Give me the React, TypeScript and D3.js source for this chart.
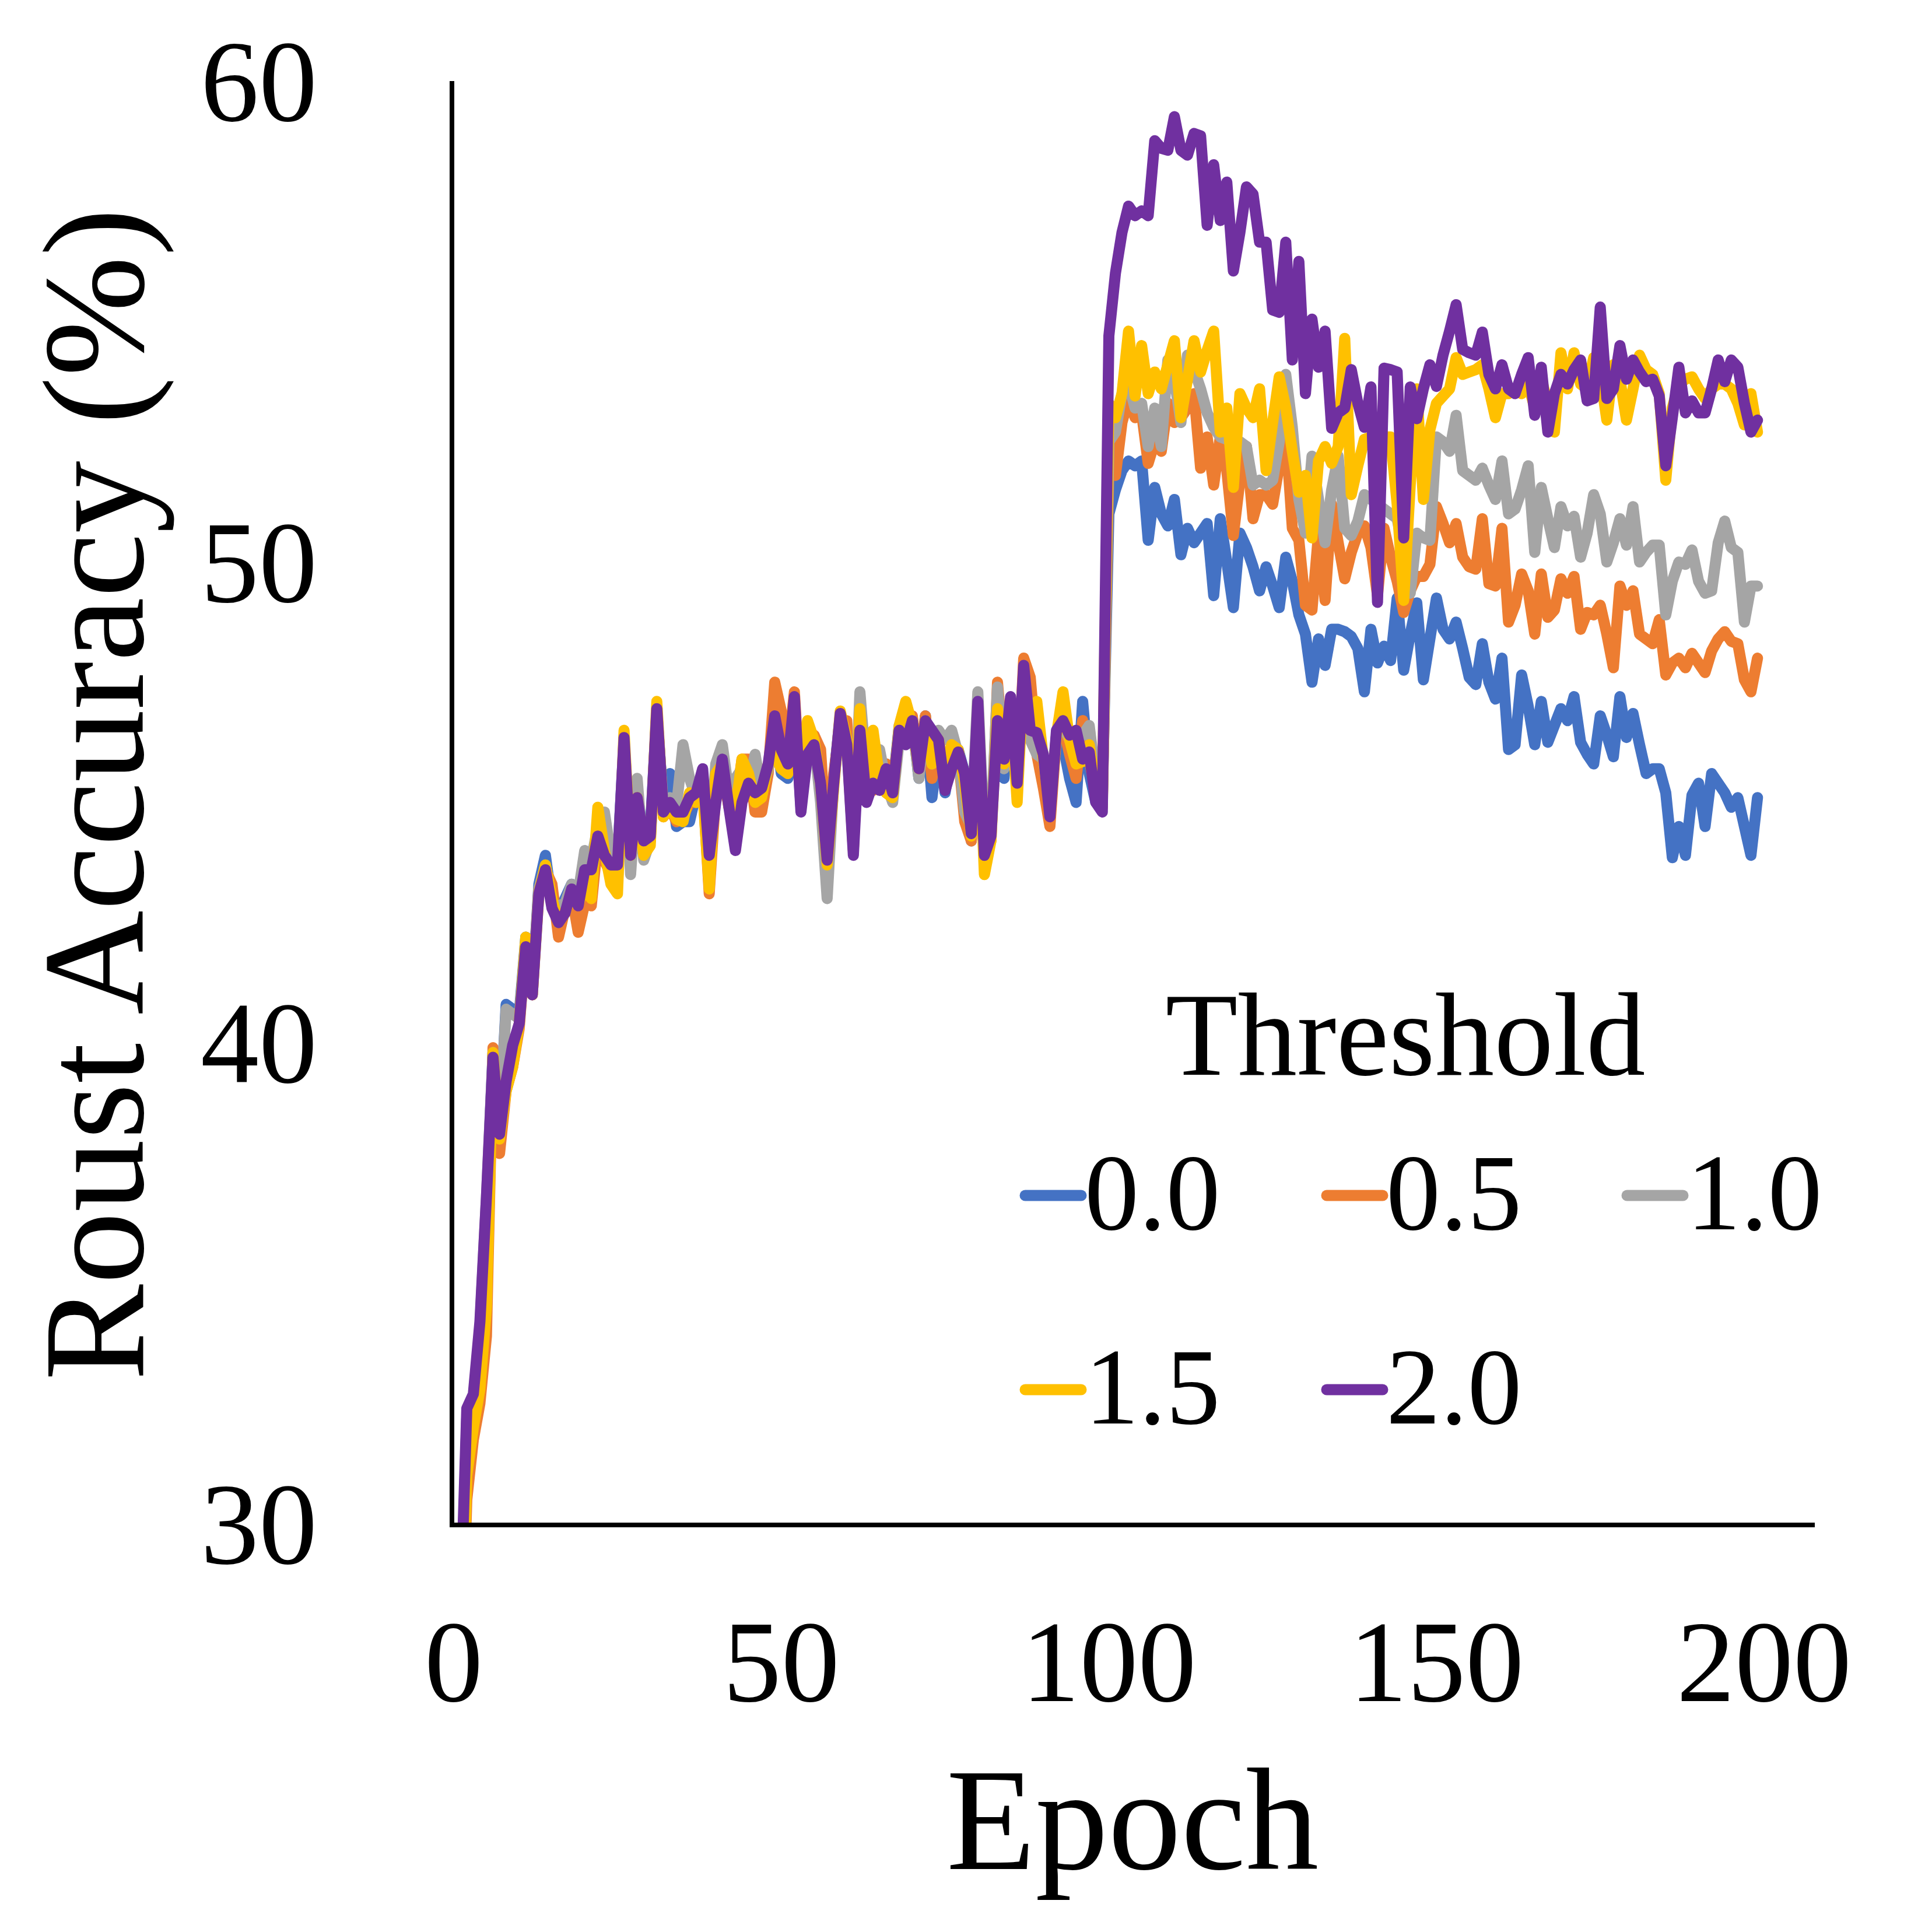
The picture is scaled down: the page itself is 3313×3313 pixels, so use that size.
import React from 'react';
import * as d3 from 'd3';

// ---------- data ----------
const epochs: number[] = Array.from({ length: 200 }, (_, i) => i);

const acc00: number[] = [
  24.5, 27.5, 32.2, 32.6, 34.0, 36.6, 39.8, 38.2, 40.8, 40.7,
  40.6, 42.2, 41.1, 43.3, 43.9, 42.9, 42.7, 43.0, 43.3, 43.0,
  43.6, 43.7, 44.4, 44.0, 43.8, 43.8, 46.3, 44.0, 45.2, 44.2,
  44.4, 46.9, 44.9, 45.6, 44.5, 44.6, 44.6, 45.2, 45.5, 44.0,
  45.2, 45.8, 45.0, 44.2, 45.3, 45.6, 45.4, 45.2, 45.7, 46.7,
  45.6, 45.5, 47.0, 44.9, 46.1, 46.3, 45.6, 43.8, 45.5, 46.8,
  46.3, 44.2, 46.6, 45.1, 45.5, 45.6, 45.8, 45.3, 46.6, 46.3,
  46.7, 45.5, 46.8, 45.1, 46.2, 45.2, 46.0, 46.1, 45.6, 44.2,
  47.0, 44.0, 44.6, 46.5, 45.5, 47.1, 45.2, 47.8, 46.3, 46.2,
  45.9, 44.9, 46.3, 46.2, 45.5, 45.0, 47.1, 45.6, 45.0, 45.1,
  51.0, 51.5, 51.9, 52.1, 52.0, 52.1, 50.45, 51.55, 51.0, 50.75,
  51.3, 50.15, 50.7, 50.4, 50.6, 50.8, 49.3, 50.9, 50.0, 49.05,
  50.6, 50.3, 49.9, 49.4, 49.9, 49.5, 49.05, 50.1, 49.6, 48.9,
  48.5, 47.5, 48.4, 47.85, 48.6, 48.6, 48.55, 48.45, 48.2, 47.3,
  48.6, 47.9, 48.25, 47.95, 49.25, 47.75, 48.5, 49.15, 47.55, 48.4,
  49.25, 48.6, 48.4, 48.75, 48.2, 47.6, 47.45, 48.3, 47.5, 47.15,
  48.0, 46.1, 46.2, 47.65, 47.0, 46.2, 47.1, 46.25, 46.6, 46.95,
  46.7, 47.2, 46.25, 46.0, 45.8, 46.8, 46.4, 45.95, 47.2, 46.35,
  46.85, 46.2, 45.6, 45.7, 45.7, 45.2, 43.85, 44.5, 43.9, 45.15,
  45.4, 44.5, 45.6, 45.4, 45.2, 44.9, 45.1, 44.5, 43.9, 45.1,
];

const acc05: number[] = [
  23.5, 26.0, 30.5, 31.75, 32.5, 33.9, 39.9, 37.7, 39.0, 39.5,
  40.3, 42.1, 41.0, 43.2, 43.6, 43.3, 42.2, 42.8, 43.1, 42.3,
  42.9, 42.85, 44.2, 43.8, 43.5, 43.3, 46.3, 43.8, 45.0, 44.0,
  44.2, 46.9, 44.7, 44.9, 44.6, 44.7, 45.0, 45.0, 45.4, 43.1,
  45.2, 45.7, 44.9, 44.9, 45.9, 45.9, 44.8, 44.8, 45.6, 47.5,
  46.9, 46.0, 47.3, 45.0, 46.3, 46.4, 46.1, 43.9, 45.6, 46.6,
  46.7, 44.1, 46.6, 45.2, 45.25, 45.3, 45.8, 45.3, 46.5, 46.5,
  46.8, 45.7, 46.8, 45.5, 46.3, 45.4, 46.1, 46.0, 44.6, 44.2,
  46.9, 44.0, 44.2, 47.5, 45.9, 47.0, 45.2, 48.0, 47.6, 46.0,
  45.3, 44.5, 46.4, 46.6, 46.0, 45.5, 46.7, 45.9, 45.2, 44.9,
  52.0, 51.8, 52.9, 53.4, 53.0, 53.1, 52.05, 52.5, 52.3, 53.3,
  52.9, 53.0, 53.2, 53.5, 51.95, 52.6, 51.6, 52.6, 51.9, 50.55,
  51.7, 52.4, 50.9, 51.4, 51.4, 51.2, 52.0, 52.7, 50.7, 50.45,
  49.1, 49.0, 50.6, 49.2, 51.2, 50.4, 49.65, 50.2, 50.6, 50.75,
  50.3, 49.3, 50.7, 50.1, 49.6, 48.95, 49.4, 49.7, 49.7, 49.95,
  51.15, 50.8, 50.4, 50.8, 50.1, 49.9, 49.85, 50.9, 49.55, 49.5,
  50.7, 48.75, 49.1, 49.75, 49.4, 48.5, 49.75, 48.85, 49.0, 49.65,
  49.35, 49.7, 48.6, 48.95, 48.9, 49.1, 48.5, 47.8, 49.5, 49.1,
  49.4, 48.5, 48.4, 48.3, 48.8, 47.65, 47.9, 48.0, 47.8, 48.1,
  47.9, 47.7, 48.15, 48.4, 48.55, 48.35, 48.3, 47.55, 47.3, 48.0,
];

const acc10: number[] = [
  24.5, 27.5, 32.2, 32.6, 34.1, 36.8, 39.8, 38.3, 40.7, 40.6,
  40.5, 42.1, 41.1, 43.2, 43.7, 42.9, 42.85, 42.9, 43.3, 43.1,
  44.0, 43.8, 44.5, 44.8, 43.9, 43.8, 46.2, 43.5, 45.5, 43.8,
  44.2, 46.9, 44.9, 45.1, 44.9, 46.2, 45.5, 45.1, 45.4, 43.9,
  45.8, 46.2, 45.2, 45.5, 45.7, 45.3, 46.0, 45.2, 45.7, 46.6,
  45.8, 45.8, 47.0, 45.0, 46.2, 46.3, 45.0, 43.0, 45.4, 46.7,
  46.2, 44.0, 47.3, 45.6, 46.0, 46.1, 45.4, 45.0, 46.3, 46.3,
  46.7, 45.5, 46.7, 45.8, 46.5, 46.3, 46.5, 46.0, 44.8, 44.5,
  47.3, 44.2, 44.5, 47.4, 45.7, 46.9, 45.5, 47.7, 46.3, 46.0,
  45.9, 45.0, 46.4, 46.6, 46.3, 46.3, 46.4, 46.6, 45.5, 45.0,
  52.5, 52.7, 53.5, 53.7, 53.2, 53.3, 52.4, 53.2, 52.4, 54.2,
  53.8, 52.9, 54.3, 54.0, 53.6, 53.1, 52.8, 52.6, 52.55, 52.5,
  52.5, 52.4, 51.6, 51.7, 51.6, 51.7, 52.5, 53.9, 52.8, 51.3,
  50.6, 52.2, 51.3, 50.4, 51.5, 52.2, 50.7, 50.55, 50.85, 51.4,
  51.3, 51.2, 51.1, 51.0, 50.9, 50.2, 49.35, 50.6, 50.5, 50.45,
  52.6, 52.5, 52.3, 53.05, 51.9, 51.8, 51.7, 51.95, 51.6, 51.3,
  52.1, 51.0, 51.1, 51.5, 52.0, 50.2, 51.55, 50.9, 50.3, 51.15,
  50.75, 50.95, 50.1, 50.6, 51.4, 51.0, 50.0, 50.4, 50.9, 50.35,
  51.15, 50.0, 50.2, 50.35, 50.35, 48.9, 49.6, 50.0, 49.95, 50.25,
  49.6, 49.35, 49.4, 50.4, 50.85, 50.3, 50.2, 48.75, 49.5, 49.5,
];

const acc15: number[] = [
  23.8, 26.5, 31.0, 32.0, 32.8, 34.5, 39.8, 38.0, 39.0, 39.5,
  40.4, 42.2, 41.0, 43.1, 43.7, 43.0, 42.5, 42.7, 43.1, 42.9,
  43.2, 43.0, 44.9, 44.0, 43.3, 43.1, 46.5, 43.9, 45.1, 43.9,
  44.1, 47.1, 44.7, 44.9, 44.65, 44.6, 45.2, 45.0, 45.3, 43.2,
  45.6, 45.8, 45.0, 44.8, 45.9, 45.6, 45.0, 45.1, 45.8, 46.0,
  45.7, 45.6, 46.8, 45.1, 46.7, 46.3, 45.4, 43.7, 45.3, 46.9,
  46.3, 44.0, 46.95, 45.2, 46.5, 45.5, 45.2, 45.1, 46.6, 47.1,
  46.6, 45.7, 46.7, 45.8, 46.3, 45.6, 46.2, 46.1, 45.4, 44.3,
  46.8, 43.5, 44.2, 46.95, 45.8, 47.1, 45.0, 47.7, 46.6, 47.1,
  45.9, 44.9, 46.4, 47.3, 46.3, 45.8, 45.85, 46.2, 45.3, 45.0,
  53.3, 53.0, 53.5, 54.8, 53.45, 54.5, 53.5, 53.95, 53.6, 54.1,
  54.6, 53.0, 53.8, 54.6, 53.95, 54.4, 54.8, 52.7, 53.2, 51.55,
  53.5, 53.2, 53.0, 53.6, 51.9, 52.9, 53.85, 53.2, 52.3, 51.45,
  51.8, 50.5, 52.1, 52.4, 52.05, 52.4, 54.65, 51.4, 52.0, 52.55,
  52.6, 52.7, 52.6, 52.6, 51.2, 49.2, 51.6, 53.6, 51.3, 52.75,
  53.3, 53.45, 53.6, 54.25, 53.9, 53.95, 54.0, 54.1, 53.6, 53.0,
  53.5, 53.5, 53.6, 53.5, 53.7, 53.2, 53.8, 53.3, 52.7, 54.35,
  53.6, 54.35, 53.7, 53.6, 54.25, 53.9, 52.95, 54.1, 53.8, 52.95,
  53.6, 54.3, 54.0, 53.9, 53.5, 51.7, 53.2, 53.7, 53.8, 53.85,
  53.6, 53.4, 53.6, 53.7, 53.7, 53.6, 53.3, 52.85, 53.5, 52.7,
];

const acc20: number[] = [
  25.0, 28.0, 32.4, 32.7, 34.2, 36.8, 39.7, 38.1, 39.2, 39.95,
  40.4, 42.0, 41.0, 43.1, 43.6, 42.8, 42.5, 42.7, 43.2, 42.85,
  43.6, 43.6, 44.3, 43.9, 43.7, 43.7, 46.35, 43.9, 45.1, 44.2,
  44.3, 46.95, 44.8, 45.0, 44.8, 44.8, 45.1, 45.2, 45.7, 43.9,
  45.0, 45.9, 44.9, 44.0, 45.0, 45.4, 45.2, 45.3, 45.8, 46.8,
  46.1, 45.8, 47.2, 44.8, 46.0, 46.2, 45.4, 43.8, 45.4, 46.85,
  46.2, 43.9, 46.5, 45.0, 45.4, 45.25, 45.7, 45.2, 46.5, 46.2,
  46.7, 45.7, 46.7, 46.5, 46.3, 45.25, 45.7, 46.05, 45.6, 44.35,
  47.1, 43.9, 44.3, 46.7, 45.9, 47.2, 45.4, 47.85, 46.5, 46.45,
  46.0, 44.7, 46.5, 46.7, 46.4, 46.5, 45.9, 46.05, 45.0, 44.8,
  54.7, 56.0, 56.85, 57.4, 57.2, 57.3, 57.2, 58.76, 58.6, 58.56,
  59.26, 58.56, 58.46, 58.91, 58.86, 57.0, 58.26, 57.1, 57.9, 56.05,
  56.85, 57.8, 57.65, 56.65, 56.65, 55.24, 55.19, 56.65, 54.2, 56.25,
  53.5, 55.05, 54.05, 54.8, 52.78, 53.1, 53.2, 54.0, 53.3, 52.8,
  53.64, 49.16, 54.03, 54.0, 53.95, 50.5, 53.64, 52.98, 53.6, 54.1,
  53.65, 54.3, 54.8, 55.35, 54.42, 54.35, 54.3, 54.78, 53.9, 53.6,
  54.1, 53.6, 53.5, 53.9, 54.25, 53.05, 54.05, 52.7, 53.5, 53.9,
  53.7, 54.0, 54.2, 53.35, 53.4, 55.3, 53.4, 53.6, 54.5, 53.8,
  54.2, 53.95, 53.75, 53.8, 53.45, 52.0, 53.0, 54.05, 53.1, 53.35,
  53.1, 53.1, 53.6, 54.2, 53.75, 54.2, 54.05, 53.3, 52.7, 52.95,
];

const seriesLabels: string[] = ['0.0', '0.5', '1.0', '1.5', '2.0'];
const seriesColors: string[] = ['#4472C4', '#ED7D31', '#A5A5A5', '#FFC000', '#7030A0'];
const seriesValues: number[][] = [acc00, acc05, acc10, acc15, acc20];

const yTicks: number[] = [30, 40, 50, 60];
const xTicks: number[] = [0, 50, 100, 150, 200];

const xTitle = 'Epoch';
const yTitle = 'Roust Accuracy (%)';
const legendTitle = 'Threshold';

// ---------- layout ----------
const W = 3313;
const H = 3313;
const FONT = "'Liberation Serif', 'Times New Roman', Times, serif";
const STROKE = 19;

const x = d3.scaleLinear().domain([0, 200]).range([778, 3025]);
const y = d3.scaleLinear().domain([30, 60]).range([2613, 139]);

const lineGen = d3
  .line<number>()
  .x((_, i) => x(epochs[i]))
  .y((d) => y(d));

// legend slots: [lineStartX, rowBaselineY]
const legendSlots: [number, number][] = [
  [1754, 2108],
  [2271, 2108],
  [2786, 2108],
  [1754, 2441],
  [2271, 2441],
];

export default function App() {
  const axisLeft = 775;
  const axisBottom = 2615;
  return (
    <svg
      width={W}
      height={H}
      viewBox={`0 0 ${W} ${H}`}
      style={{ position: 'absolute', left: 0, top: 0, background: '#fff' }}
      fontFamily={FONT}
    >
      <rect x={0} y={0} width={W} height={H} fill="#ffffff" />
      <defs>
        <clipPath id="plotClip">
          <rect x={axisLeft} y={0} width={W - axisLeft} height={y(30)} />
        </clipPath>
      </defs>

      <g clipPath="url(#plotClip)">
        {seriesValues.map((vals, k) => (
          <path
            key={seriesLabels[k]}
            d={lineGen(vals) || ''}
            fill="none"
            stroke={seriesColors[k]}
            strokeWidth={STROKE}
            strokeLinejoin="round"
            strokeLinecap="round"
          />
        ))}
      </g>

      {/* axes */}
      <line x1={axisLeft} x2={axisLeft} y1={y(60)} y2={axisBottom + 4} stroke="#000" strokeWidth={8} />
      <line x1={axisLeft - 4} x2={3112} y1={axisBottom} y2={axisBottom} stroke="#000" strokeWidth={8} />

      {/* y ticks */}
      {yTicks.map((t) => (
        <text key={'y' + t} x={544} y={y(t) + 68} fontSize={200} textAnchor="end" fill="#000">
          {t}
        </text>
      ))}
      {/* x ticks */}
      {xTicks.map((t) => (
        <text key={'x' + t} x={x(t)} y={2917} fontSize={200} textAnchor="middle" fill="#000">
          {t}
        </text>
      ))}

      {/* titles */}
      <text x={1942} y={3205} fontSize={250} textAnchor="middle" fill="#000">
        {xTitle}
      </text>
      <text
        transform={`translate(245, 1362) rotate(-90)`}
        fontSize={248}
        textAnchor="middle"
        fill="#000"
      >
        {yTitle}
      </text>

      {/* legend */}
      <text x={2410} y={1843} fontSize={203} textAnchor="middle" fill="#000">
        {legendTitle}
      </text>
      {seriesLabels.map((lab, k) => {
        const [lx, by] = legendSlots[k];
        return (
          <g key={'leg' + lab}>
            <line
              x1={lx + 4}
              x2={lx + 100}
              y1={by - 58}
              y2={by - 58}
              stroke={seriesColors[k]}
              strokeWidth={STROKE}
              strokeLinecap="round"
            />
            <text x={lx + 106} y={by} fontSize={186} fill="#000">
              {lab}
            </text>
          </g>
        );
      })}
    </svg>
  );
}
